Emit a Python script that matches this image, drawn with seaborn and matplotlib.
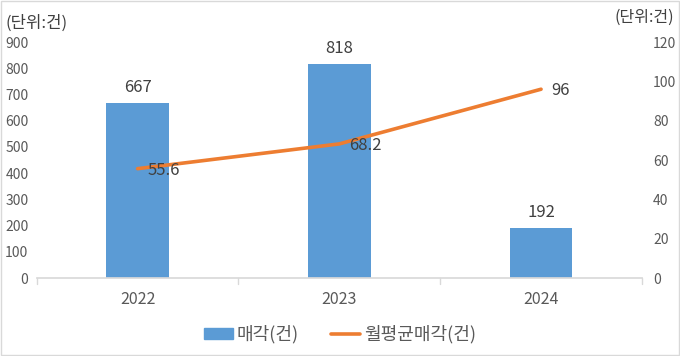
import matplotlib
matplotlib.use("Agg")
import matplotlib.pyplot as plt
from matplotlib.patches import Rectangle
from matplotlib.lines import Line2D
import seaborn as sns
import numpy as np
import pandas as pd

years = ["2022", "2023", "2024"]
sales = [667, 818, 192]          # 매각(건)
monthly_avg = [55.6, 68.2, 96]   # 월평균매각(건)
avg_labels = ["55.6", "68.2", "96"]

BAR = "#5B9BD5"
LINE = "#ED7D31"
TXT = "#595959"

sns.set_theme(style="white")
plt.rcParams["font.family"] = ["Noto Sans CJK KR", "DejaVu Sans"]

fig = plt.figure(figsize=(6.8, 3.56), dpi=100)
ax1 = fig.add_axes([0.054, 0.219, 0.89, 0.663])

df = pd.DataFrame({"year": years, "sales": sales})
sns.barplot(data=df, x="year", y="sales", ax=ax1, color=BAR, width=0.31,
            saturation=1, edgecolor="none")
ax1.set_xlim(-0.5, 2.5)
ax1.set_ylim(0, 900)
ax1.set_yticks(range(0, 901, 100))
ax1.set_xlabel("")
ax1.set_ylabel("")
for s in ["top", "left", "right"]:
    ax1.spines[s].set_visible(False)
ax1.spines["bottom"].set_color("#d9d9d9")
ax1.tick_params(axis="y", length=0, labelsize=10, labelcolor=TXT, pad=6)
ax1.tick_params(axis="x", length=0, labelsize=11.5, labelcolor=TXT, pad=9)
for i, v in enumerate(sales):
    ax1.annotate(str(v), (i, v), xytext=(0, 5), textcoords="offset points",
                 ha="center", va="bottom", fontsize=12, color="#404040")
# category boundary ticks
for b in [-0.5, 0.5, 1.5, 2.5]:
    ax1.add_line(Line2D([b, b], [0, -0.025], transform=ax1.get_xaxis_transform(),
                        color="#d9d9d9", lw=1, clip_on=False))

ax2 = ax1.twinx()
sns.lineplot(x=np.arange(len(years)), y=monthly_avg, ax=ax2, color=LINE,
             linewidth=2.6, solid_capstyle="round")
ax2.set_ylim(0, 120)
ax2.set_yticks(range(0, 121, 20))
ax2.set_xlim(-0.5, 2.5)
for s in ["top", "left", "right", "bottom"]:
    ax2.spines[s].set_visible(False)
ax2.tick_params(axis="y", length=0, labelsize=10, labelcolor=TXT, pad=8)
for i, (v, lab) in enumerate(zip(monthly_avg, avg_labels)):
    ax2.annotate(lab, (i, v), xytext=(7, -1), textcoords="offset points",
                 ha="left", va="center", fontsize=12, color="#404040")

fig.text(0.008, 0.935, "(단위:건)", fontsize=12, color="#404040", ha="left", va="center")
fig.text(0.992, 0.95, "(단위:건)", fontsize=11.5, color="#404040", ha="right", va="center")

handles = [Rectangle((0, 0), 1, 1, color=BAR),
           Line2D([0], [0], color=LINE, lw=2.6)]
fig.legend(handles, ["매각(건)", "월평균매각(건)"], loc="center", bbox_to_anchor=(0.5, 0.06),
           ncol=2, frameon=False, fontsize=13, labelcolor=TXT, handlelength=1.6,
           handleheight=0.5, columnspacing=1.8, handletextpad=0.2)

fig.add_artist(Rectangle((0.001, 0.003), 0.997, 0.994, transform=fig.transFigure,
                         fill=False, edgecolor="#d9d9d9", lw=1))

fig.savefig("out.png", dpi=100)
